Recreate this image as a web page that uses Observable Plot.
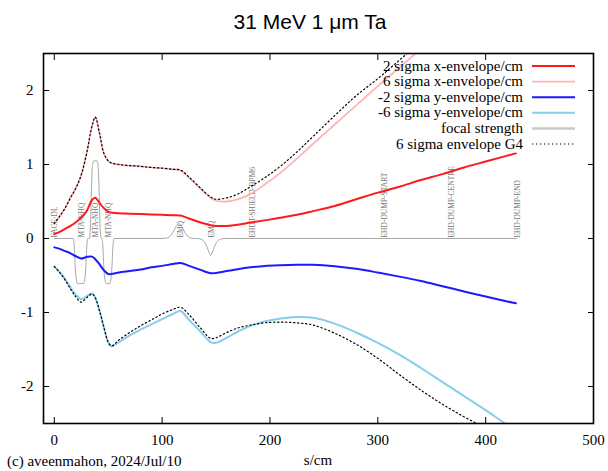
<!DOCTYPE html>
<html><head><meta charset="utf-8">
<script src="https://cdn.jsdelivr.net/npm/d3@7"></script>
<script src="https://cdn.jsdelivr.net/npm/@observablehq/plot@0.6"></script>
<style>
body{margin:0;background:#fff}
#chart{position:relative;width:608px;height:471px}
</style>
</head><body><div id="chart"></div>
<script>
// ---- data ----
const titleText = "31 MeV 1 \u03bcm Ta";
const xLabel = "s/cm";
const caption = "(c) aveenmahon, 2024/Jul/10";
const xTicks = [0, 100, 200, 300, 400, 500];
const yTicks = [-2, -1, 0, 1, 2];

const s = [0, 5, 10, 15, 20, 25, 30, 35, 38, 42, 46, 50, 53, 60, 70, 80, 90, 100, 110, 117, 125, 135, 145, 150, 160, 170, 182, 195, 210, 225, 240, 260, 280, 300, 320, 340, 360, 380, 400, 415, 428];
const x2sigma = [0.06, 0.09, 0.13, 0.17, 0.22, 0.28, 0.37, 0.52, 0.55, 0.48, 0.41, 0.36, 0.35, 0.34, 0.335, 0.33, 0.325, 0.32, 0.315, 0.31, 0.27, 0.22, 0.18, 0.17, 0.17, 0.185, 0.215, 0.245, 0.28, 0.32, 0.37, 0.44, 0.53, 0.62, 0.7, 0.79, 0.87, 0.96, 1.04, 1.1, 1.15];
const x6sigma = [0.2, 0.3, 0.41, 0.55, 0.68, 0.86, 1.15, 1.52, 1.64, 1.42, 1.15, 1.05, 1.02, 1.0, 0.985, 0.975, 0.96, 0.95, 0.935, 0.92, 0.82, 0.68, 0.55, 0.51, 0.5, 0.53, 0.6, 0.73, 0.89, 1.08, 1.28, 1.54, 1.8, 2.06, 2.31, 2.56, 2.8, 3.05, 3.3, 3.48, 3.63];
const y2sigma = [-0.12, -0.14, -0.17, -0.2, -0.24, -0.27, -0.25, -0.245, -0.28, -0.35, -0.43, -0.48, -0.48, -0.46, -0.44, -0.42, -0.39, -0.37, -0.345, -0.33, -0.37, -0.42, -0.47, -0.465, -0.44, -0.415, -0.39, -0.37, -0.36, -0.355, -0.355, -0.375, -0.41, -0.46, -0.515, -0.575, -0.645, -0.715, -0.785, -0.835, -0.875];
const y6sigma = [-0.38, -0.45, -0.55, -0.66, -0.76, -0.82, -0.78, -0.74, -0.8, -0.98, -1.2, -1.4, -1.46, -1.4, -1.31, -1.23, -1.16, -1.09, -1.02, -0.98, -1.1, -1.25, -1.4, -1.41, -1.34, -1.26, -1.18, -1.12, -1.08, -1.06, -1.07, -1.15, -1.27, -1.41, -1.57, -1.75, -1.94, -2.13, -2.32, -2.47, -2.6];
const g4x = [0.2, 0.3, 0.41, 0.55, 0.68, 0.86, 1.15, 1.52, 1.64, 1.42, 1.15, 1.05, 1.02, 1.0, 0.985, 0.975, 0.96, 0.95, 0.935, 0.925, 0.83, 0.69, 0.56, 0.53, 0.55, 0.6, 0.7, 0.82, 0.98, 1.17, 1.38, 1.66, 1.93, 2.16, 2.41, 2.66, 2.9, 3.13, 3.37, 3.52, 3.67];
const g4y = [-0.38, -0.46, -0.56, -0.68, -0.79, -0.86, -0.8, -0.75, -0.8, -0.98, -1.2, -1.4, -1.45, -1.37, -1.27, -1.18, -1.1, -1.02, -0.96, -0.93, -1.03, -1.2, -1.35, -1.34, -1.27, -1.21, -1.17, -1.14, -1.13, -1.14, -1.17, -1.28, -1.43, -1.62, -1.84, -2.05, -2.24, -2.41, -2.56, -2.66, -2.75];

const focalS = [0, 17.5, 18.5, 19.5, 20.5, 21.7, 27, 28.2, 29.2, 30.2, 31.2, 32.5, 33.5, 34.5, 35.5, 36.5, 39.5, 40.5, 41.5, 42.5, 43.5, 44, 45, 46, 47, 48.2, 51.2, 52.4, 53.4, 54.4, 55.5, 100, 105, 108, 111, 113.5, 115.5, 117.5, 120, 123, 126, 130, 132, 136, 139, 141.5, 143.5, 145, 146.5, 148.5, 151, 154, 158, 429];
const focalV = [0, 0, -0.1, -0.4, -0.56, -0.61, -0.61, -0.56, -0.4, -0.1, 0, 0, 0.15, 0.7, 1.0, 1.05, 1.05, 1.0, 0.7, 0.15, 0, 0, -0.1, -0.4, -0.56, -0.61, -0.61, -0.56, -0.4, -0.1, 0, 0, 0.01, 0.04, 0.11, 0.18, 0.2, 0.18, 0.11, 0.04, 0.01, 0, 0, -0.01, -0.04, -0.11, -0.19, -0.23, -0.19, -0.11, -0.04, -0.01, 0, 0];

const elemNames = ["FACE-DL", "MTA-NHQ", "MTA-NHQ", "MTA-NHQ", "EMQ", "EMQ", "EHDT-SHIELD-BPM6", "EHD-DUMP-START", "EHD-DUMP-CENTRE", "EHD-DUMP-END"];
const elemS = [0, 24.5, 37.5, 50, 117, 145.5, 183, 306, 367.5, 429.5];

const legendLabels = ["2 sigma x-envelope/cm", "6 sigma x-envelope/cm", "-2 sigma y-envelope/cm", "-6 sigma y-envelope/cm", "focal strength", "6 sigma envelope G4"];

// ---- build tables ----
const env = s.map((v, i) => ({s: v, x2: x2sigma[i], x6: x6sigma[i], y2: y2sigma[i], y6: y6sigma[i], gx: g4x[i], gy: g4y[i]}));
const focal = focalS.map((v, i) => ({s: v, f: focalV[i]}));
const elems = elemS.map((v, i) => ({s: v, name: elemNames[i]}));

const serif = "'Liberation Serif', 'Times New Roman', serif";
const styles = [
  {stroke: "#ff1a1a", strokeWidth: 2},
  {stroke: "#ffb3b3", strokeWidth: 1.8},
  {stroke: "#1a1aff", strokeWidth: 2},
  {stroke: "#87ceeb", strokeWidth: 2},
  {stroke: "#c8c8c8", strokeWidth: 2.5},
  {stroke: "#000", strokeWidth: 1.2, strokeDasharray: "1.3,2.7"}
];
const smooth = "catmull-rom";

const plot = Plot.plot({
  width: 608, height: 471,
  marginLeft: 43, marginRight: 15, marginTop: 53, marginBottom: 48,
  x: {domain: [-10, 500]},
  y: {domain: [-2.5, 2.5]},
  style: {fontFamily: serif, fontSize: "15px", background: "#fff", color: "#000"},
  marks: [
    Plot.text(elems, {x: "s", y: 0, text: "name", rotate: -90, textAnchor: "start", lineAnchor: "middle", fontSize: 7.5, fill: "#777", dx: 0.5, dy: -1}),
    Plot.line(focal, {x: "s", y: "f", stroke: "#a8a8a8", strokeWidth: 1, curve: "monotone-x", clip: true}),
    Plot.line(env, {x: "s", y: "x2", ...styles[0], curve: smooth, clip: true}),
    Plot.line(env, {x: "s", y: "x6", ...styles[1], curve: smooth, clip: true}),
    Plot.line(env, {x: "s", y: "y2", ...styles[2], curve: smooth, clip: true}),
    Plot.line(env, {x: "s", y: "y6", ...styles[3], curve: smooth, clip: true}),
    Plot.line(env, {x: "s", y: "gx", ...styles[5], curve: smooth, clip: true}),
    Plot.line(env, {x: "s", y: "gy", ...styles[5], curve: smooth, clip: true}),
    Plot.axisX(xTicks, {anchor: "bottom", tickSize: -6, tickPadding: 17, tickFormat: d => String(d), label: null, fontSize: 15}),
    Plot.axisX(xTicks, {anchor: "top", tickSize: -6, tickFormat: () => "", label: null}),
    Plot.axisY(yTicks, {anchor: "left", tickSize: -6, tickPadding: 16, tickFormat: d => String(d), label: null, fontSize: 15}),
    Plot.axisY(yTicks, {anchor: "right", tickSize: -6, tickFormat: () => "", label: null}),
    Plot.frame({stroke: "#000", strokeWidth: 1.6})
  ]
});

document.getElementById("chart").appendChild(plot);
const svg = d3.select(plot);

// title
svg.append("text").attr("x", 310).attr("y", 29).attr("text-anchor", "middle")
  .style("font-family", "'Liberation Sans', Arial, sans-serif").style("font-size", "21px").attr("fill", "#000")
  .text(titleText);
// x label
svg.append("text").attr("x", 318).attr("y", 465).attr("text-anchor", "middle")
  .style("font-family", serif).style("font-size", "15px").attr("fill", "#000").text(xLabel);
// caption
svg.append("text").attr("x", 7).attr("y", 466).attr("text-anchor", "start")
  .style("font-family", serif).style("font-size", "15px").attr("fill", "#000").text(caption);

// legend
const lg = svg.append("g");
legendLabels.forEach((lab, i) => {
  const yy = 66 + i * 15.6;
  lg.append("text").attr("x", 523).attr("y", yy + 4.5).attr("text-anchor", "end")
    .style("font-family", serif).style("font-size", "15px").attr("fill", "#000").text(lab);
  const st = styles[i];
  const ln = lg.append("line").attr("x1", 532).attr("x2", 575).attr("y1", yy).attr("y2", yy)
    .attr("stroke", st.stroke).attr("stroke-width", st.strokeWidth);
  if (st.strokeDasharray) ln.attr("stroke-dasharray", st.strokeDasharray);
});
</script>
</body></html>
